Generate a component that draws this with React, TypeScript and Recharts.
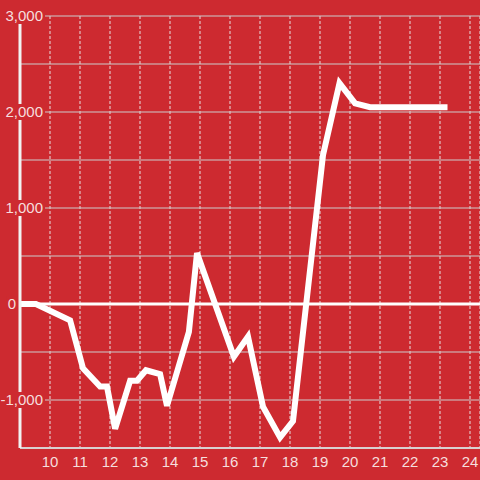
import React from "react";
import { LineChart, Line, XAxis, YAxis, CartesianGrid, ReferenceLine } from "recharts";

const BG = "#cd2a30";
const TEXT = "#f6dede";

const hours = [9, 9.53, 10.67, 11.1, 11.67, 11.9, 12.17, 12.67, 12.9, 13.2, 13.67, 13.9, 14.63, 14.9, 16.13, 16.6, 17.1, 17.67, 18.1, 19.1, 19.65, 20.17, 20.67, 23.25];
const values = [0, 0, -170, -670, -860, -860, -1300, -800, -800, -690, -730, -1060, -290, 530, -550, -340, -1070, -1390, -1220, 1550, 2300, 2090, 2050, 2050];
const xTicks = [10, 11, 12, 13, 14, 15, 16, 17, 18, 19, 20, 21, 22, 23, 24];
const yTicks = [-1500, -1000, -500, 0, 500, 1000, 1500, 2000, 2500, 3000];

const data = hours.map((h, i) => ({ h, v: values[i] }));

const FONT = "'Liberation Sans', Arial, sans-serif";

function YTick(props: any) {
  const { y, payload } = props;
  const v = payload.value as number;
  if (v % 1000 !== 0 || v === -1500) return null;
  const label = v.toLocaleString("en-US");
  const anchorX = v === 0 ? 16 : 43;
  const w = label.length * 8.2;
  return (
    <g>
      <rect x={anchorX - w - 1} y={y - 8} width={w + 3} height={16} fill={BG} />
      <text x={anchorX} y={y} dy="0.35em" textAnchor="end" fill={TEXT} fontSize={15} fontFamily={FONT}>
        {label}
      </text>
    </g>
  );
}

export default function App() {
  return (
    <div style={{ position: "absolute", left: 0, top: 0, width: 480, height: 480, background: BG }}>
      <LineChart width={480} height={480} data={data} margin={{ top: 16, right: 0, bottom: 0, left: 0 }}>
        <CartesianGrid
          horizontal={false}
          vertical={true}
          stroke="#e6e0e0"
          strokeDasharray="3 2"
        />
        <CartesianGrid horizontal={true} vertical={false} stroke="#cccccc" />
        <XAxis
          type="number"
          dataKey="h"
          domain={[9, 24.3333]}
          ticks={xTicks}
          allowDataOverflow
          height={32}
          tickLine={false}
          axisLine={{ stroke: "#d8d0d0", strokeWidth: 2 }}
          tick={{ fill: TEXT, fontSize: 15, fontFamily: FONT }}
        />
        <YAxis
          type="number"
          domain={[-1500, 3000]}
          ticks={yTicks}
          width={20}
          tickLine={false}
          axisLine={{ stroke: "#f2f2f2", strokeWidth: 3 }}
          tick={<YTick />}
        />
        <ReferenceLine y={0} stroke="#ffffff" strokeWidth={3} />
        <Line
          type="linear"
          dataKey="v"
          stroke="#ffffff"
          strokeWidth={6}
          dot={false}
          isAnimationActive={false}
        />
      </LineChart>
    </div>
  );
}
